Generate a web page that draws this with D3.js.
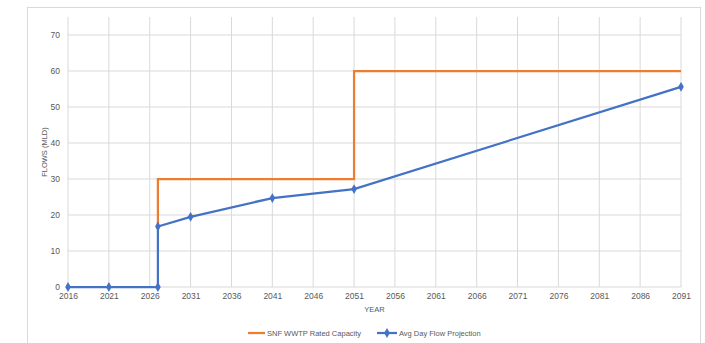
<!DOCTYPE html>
<html>
<head>
<meta charset="utf-8">
<script src="https://cdn.jsdelivr.net/npm/d3@7"></script>
<style>
  body { margin: 0; background: #fff; }
  text { font-family: "Liberation Sans", Arial, sans-serif; fill: #595959; }
</style>
</head>
<body>
<div id="viz"></div>
<script>
// Data
var yearTicks = [2016, 2021, 2026, 2031, 2036, 2041, 2046, 2051, 2056, 2061, 2066, 2071, 2076, 2081, 2086, 2091]
var flowTicks = [0, 10, 20, 30, 40, 50, 60, 70]

var capacityYears = [2027, 2027, 2051, 2051, 2091]
var capacityFlows = [16.8, 30, 30, 60, 60]

var avgYears = [2016, 2021, 2027, 2027, 2031, 2041, 2051, 2091]
var avgFlows = [0, 0, 0, 16.8, 19.5, 24.7, 27.2, 55.6]
var avgMarked = [true, true, true, true, true, true, true, true]

var capacity = capacityYears.map((y, i) => ({ year: y, flow: capacityFlows[i] }))
var avg = avgYears.map((y, i) => ({ year: y, flow: avgFlows[i], mark: avgMarked[i] }))

var width = 705, height = 343
var orange = "#ED7D31", blue = "#4472C4", grid = "#d9d9d9"

var svg = d3.select("#viz")
    .append("svg")
    .attr("width", width)
    .attr("height", height)

// Chart frame
svg.append("rect")
    .attr("x", 27.5).attr("y", 7.5)
    .attr("width", 673).attr("height", 345)
    .style("fill", "none")
    .style("stroke", grid)

var x = d3.scaleLinear().domain([2016, 2091]).range([68, 681])
var y = d3.scaleLinear().domain([0, 75]).range([287, 17])

// Gridlines
svg.append("g")
    .selectAll("line")
    .data(yearTicks)
    .enter()
    .append("line")
    .attr("x1", d => x(d)).attr("x2", d => x(d))
    .attr("y1", y(0)).attr("y2", y(75))
    .style("stroke", grid)

svg.append("g")
    .selectAll("line")
    .data(flowTicks)
    .enter()
    .append("line")
    .attr("x1", x(2016)).attr("x2", x(2091))
    .attr("y1", d => y(d)).attr("y2", d => y(d))
    .style("stroke", grid)

// Axes (labels only, Excel style)
var xAxis = svg.append("g")
    .attr("transform", "translate(0," + y(0) + ")")
    .call(d3.axisBottom(x).tickValues(yearTicks).tickFormat(d3.format("d")).tickSize(0).tickPadding(6))
xAxis.select(".domain").remove()
xAxis.selectAll("text").style("font-size", "8.5px").style("fill", "#595959")

var yAxis = svg.append("g")
    .attr("transform", "translate(" + x(2016) + ",0)")
    .call(d3.axisLeft(y).tickValues(flowTicks).tickSize(0).tickPadding(8))
yAxis.select(".domain").remove()
yAxis.selectAll("text").style("font-size", "8.5px").style("fill", "#595959")

// Axis titles
svg.append("text")
    .attr("x", (x(2016) + x(2091)) / 2)
    .attr("y", 312)
    .attr("text-anchor", "middle")
    .style("font-size", "7.5px")
    .text("YEAR")

svg.append("text")
    .attr("transform", "translate(47," + (y(0) + y(75)) / 2 + ") rotate(-90)")
    .attr("text-anchor", "middle")
    .style("font-size", "7.5px")
    .text("FLOWS (MLD)")

// Series
var line = d3.line().x(d => x(d.year)).y(d => y(d.flow))

svg.append("path")
    .datum(capacity)
    .attr("d", line)
    .style("fill", "none")
    .style("stroke", orange)
    .style("stroke-width", 2.25)

svg.append("path")
    .datum(avg)
    .attr("d", line)
    .style("fill", "none")
    .style("stroke", blue)
    .style("stroke-width", 2.25)

var diamond = d3.symbol().type(d3.symbolDiamond).size(28)

svg.append("g")
    .selectAll("path")
    .data(avg.filter(d => d.mark))
    .enter()
    .append("path")
    .attr("d", diamond)
    .attr("transform", d => "translate(" + x(d.year) + "," + y(d.flow) + ")")
    .style("fill", blue)

// Legend
var legend = svg.append("g").attr("transform", "translate(0,333)")

legend.append("line")
    .attr("x1", 248).attr("x2", 265)
    .style("stroke", orange).style("stroke-width", 2.25)
legend.append("text")
    .attr("x", 267).attr("y", 3)
    .style("font-size", "7.5px")
    .text("SNF WWTP Rated Capacity")

legend.append("line")
    .attr("x1", 377).attr("x2", 397)
    .style("stroke", blue).style("stroke-width", 2.25)
legend.append("path")
    .attr("d", diamond)
    .attr("transform", "translate(387,0)")
    .style("fill", blue)
legend.append("text")
    .attr("x", 399).attr("y", 3)
    .style("font-size", "7.5px")
    .text("Avg Day Flow Projection")
</script>
</body>
</html>
